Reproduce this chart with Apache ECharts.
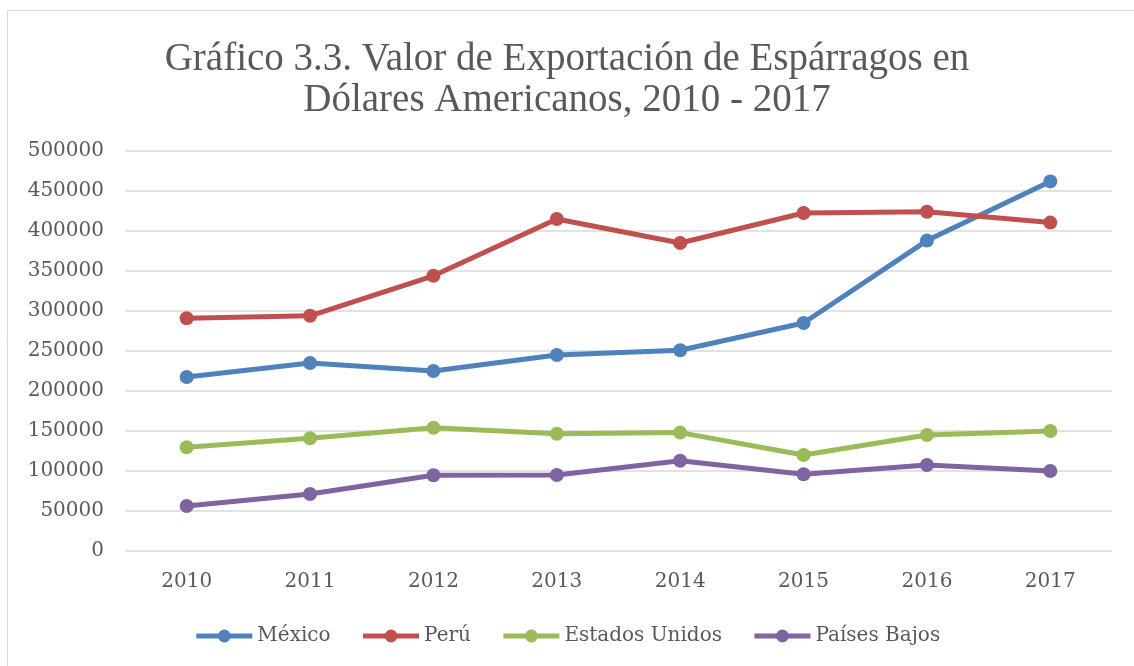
<!DOCTYPE html>
<html>
<head>
<meta charset="utf-8">
<script src="https://cdn.jsdelivr.net/npm/echarts@6/dist/echarts.min.js"></script>
<style>
  html, body { margin: 0; padding: 0; background: #fff; }
  #chart { width: 1134px; height: 666px; }
</style>
</head>
<body>
<div id="chart"></div>
<script>
// 文本颜色
const textColor = '#595959';
const titleFont = '"Liberation Serif", "DejaVu Serif", serif';
const labelFont = '"DejaVu Serif", "Liberation Serif", serif';

// 数据
const years = ['2010', '2011', '2012', '2013', '2014', '2015', '2016', '2017'];
const mexico = [217500, 235000, 225000, 245000, 251000, 285000, 388000, 462000];
const peru = [291000, 294000, 344000, 415000, 385000, 422500, 424000, 410500];
const estadosUnidos = [129600, 141000, 154000, 146600, 148000, 120000, 145000, 150000];
const paisesBajos = [56250, 71250, 94600, 95000, 112900, 96000, 107500, 100000];

const colorList = ['#4f81bd', '#c0504d', '#9bbb59', '#8064a2'];

function makeSeries(name, data) {
  return {
    name: name,
    type: 'line',
    data: data,
    symbol: 'circle',
    symbolSize: 14,
    lineStyle: { width: 5 },
    emphasis: { disabled: true }
  };
}

let chart = echarts.init(document.getElementById('chart'));
let option = {
  backgroundColor: '#fff',
  color: colorList,
  animation: false,
  title: {
    text: 'Gráfico 3.3. Valor de Exportación de Espárragos en\nDólares Americanos, 2010 - 2017',
    left: 'center',
    top: 34,
    textStyle: {
      color: textColor,
      fontFamily: titleFont,
      fontWeight: 'normal',
      fontSize: 39,
      lineHeight: 41
    }
  },
  graphic: [{
    type: 'rect',
    shape: { x: 7.5, y: 10.5, width: 1140, height: 670 },
    style: { fill: 'none', stroke: '#d9d9d9', lineWidth: 1 },
    silent: true
  }],
  legend: {
    top: 621,
    left: 'center',
    itemWidth: 56,
    itemHeight: 16,
    itemGap: 30,
    lineStyle: { width: 5 },
    textStyle: { color: textColor, fontFamily: labelFont, fontSize: 20 },
    data: ['México', 'Perú', 'Estados Unidos', 'Países Bajos']
  },
  grid: { left: 125, right: 22, top: 151, bottom: 115, containLabel: false },
  xAxis: {
    type: 'category',
    data: years,
    boundaryGap: true,
    axisLine: { show: false },
    axisTick: { show: false },
    axisLabel: { color: textColor, fontFamily: labelFont, fontSize: 20, margin: 21 }
  },
  yAxis: {
    type: 'value',
    min: 0,
    max: 500000,
    interval: 50000,
    axisLine: { show: false },
    axisTick: { show: false },
    axisLabel: {
      color: textColor, fontFamily: labelFont, fontSize: 20, margin: 21,
      formatter: function (v) { return String(v); }
    },
    splitLine: { lineStyle: { color: '#d9d9d9', width: 1.5 } }
  },
  series: [
    makeSeries('México', mexico),
    makeSeries('Perú', peru),
    makeSeries('Estados Unidos', estadosUnidos),
    makeSeries('Países Bajos', paisesBajos)
  ]
};
chart.setOption(option);
</script>
</body>
</html>
